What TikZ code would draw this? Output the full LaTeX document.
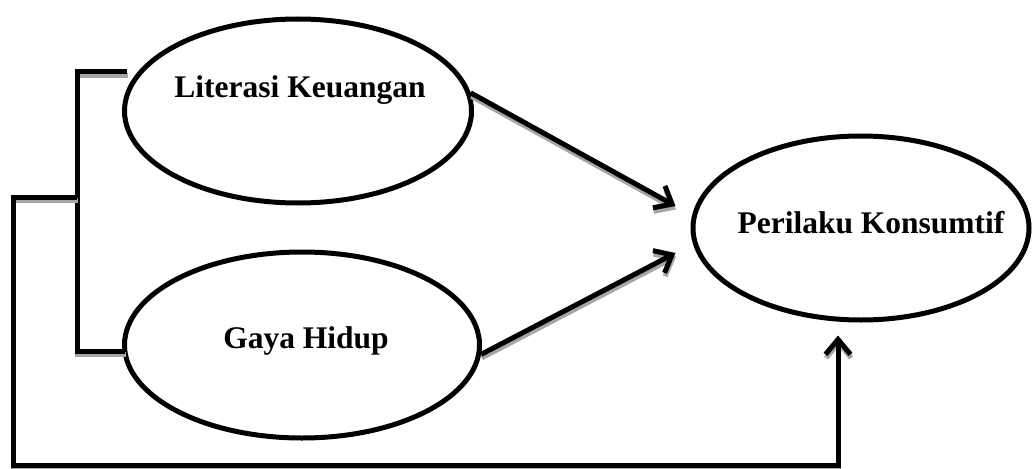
\documentclass[tikz,border=0pt]{standalone}
\usepackage{fontspec}
\setmainfont{Liberation Serif}
\usetikzlibrary{shapes.geometric,arrows.meta,calc}
\begin{document}
\begin{tikzpicture}[x=1pt,y=-1pt,
  oval/.style={ellipse,draw,line width=5pt,inner sep=0pt},
  lbl/.style={font=\bfseries\fontsize{31.5}{36}\selectfont,anchor=base,inner sep=0pt},
  conn/.style={line width=5pt,line join=miter,
    preaction={draw=black!35,line width=5pt,transform canvas={shift={(0.6pt,-3.5pt)}}}},
  arr/.style={conn,-{Straight Barb[length=15pt,width=25pt]}}]
\useasboundingbox (0,0) rectangle (1032,468);

\node[oval,minimum width=347pt,minimum height=184pt] (lk) at (298,111) {};
\node[oval,minimum width=355pt,minimum height=186pt] (gh) at (302,345) {};
\node[oval,minimum width=336pt,minimum height=184pt] (pk) at (861,228) {};

\node[lbl] (lkt) at (300,98) {Literasi Keuangan};
\node[lbl] (ght) at (306,348) {Gaya Hidup};
\node[lbl] (pkt) at (871,233) {Perilaku Konsumtif};

\coordinate (b1) at (127,72);
\coordinate (b2) at (77,72);
\coordinate (b3) at (77,351);
\coordinate (b4) at (125,351);
\coordinate (m) at (77,197);
\coordinate (l1) at (13,197);
\coordinate (l2) at (13,465);
\coordinate (l3) at (838,465);

\draw[conn] (b1) -- (b2) -- (b3) -- (b4);
\draw[arr] (m) -- (l1) -- (l2) -- (l3) -- ($(pk.south)+(-23,13)$);
\draw[arr] (lk.6) -- ($(pk.west)+(-15,-22)$);
\draw[arr] (gh.-3) -- ($(pk.west)+(-15,25)$);
\end{tikzpicture}
\end{document}
